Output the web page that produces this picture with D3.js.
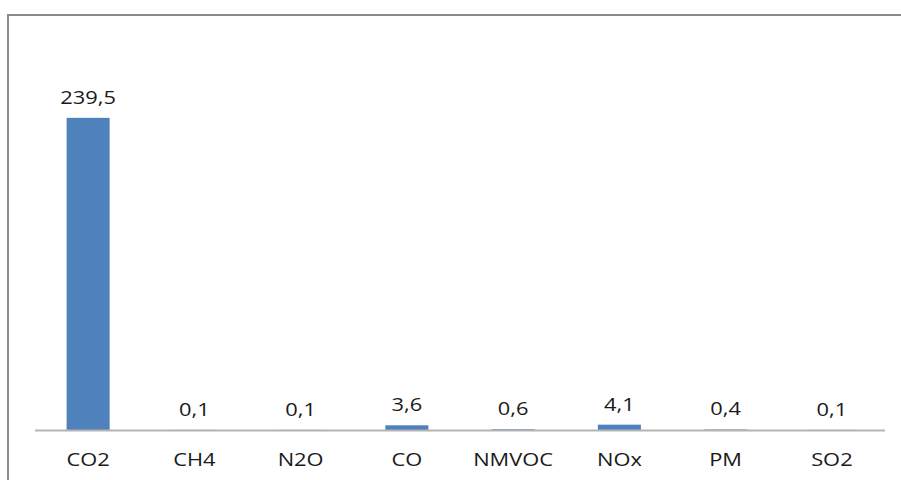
<!DOCTYPE html>
<html>
<head>
<meta charset="utf-8">
<script src="https://cdn.jsdelivr.net/npm/d3@7"></script>
<style>
  html, body { margin: 0; padding: 0; background: #fff; overflow: hidden; }
  svg { display: block; }
  text { font-family: "Open Sans", sans-serif; fill: #1a1a1a; }
</style>
</head>
<body>
<svg id="chart" width="901" height="480"></svg>
<script>
const categories = ["CO2", "CH4", "N2O", "CO", "NMVOC", "NOx", "PM", "SO2"];
const values = [239.5, 0.1, 0.1, 3.6, 0.6, 4.1, 0.4, 0.1];
const valueLabels = ["239,5", "0,1", "0,1", "3,6", "0,6", "4,1", "0,4", "0,1"];

const svg = d3.select("#chart");
const plot = { left: 35, right: 885, top: 39, bottom: 430 };
const FS = 17.5, SX = 1.25;

// frame (right and bottom edges fall outside the view)
svg.append("rect")
  .attr("x", 8).attr("y", 15)
  .attr("width", 920).attr("height", 500)
  .attr("fill", "#fff").attr("stroke", "#8a8a8a").attr("stroke-width", 2);

const x = d3.scaleBand()
  .domain(categories)
  .range([plot.left, plot.right])
  .paddingInner(0.595)
  .paddingOuter(0.2975);

const y = d3.scaleLinear()
  .domain([0, 300])
  .range([plot.bottom, plot.top]);

const data = categories.map((c, i) => ({ c, v: values[i], label: valueLabels[i] }));

svg.append("g").selectAll("rect")
  .data(data)
  .join("rect")
  .attr("x", d => x(d.c))
  .attr("y", d => y(d.v))
  .attr("width", x.bandwidth())
  .attr("height", d => y(0) - y(d.v))
  .attr("fill", "#4f81bd");

// category axis
const axis = d3.axisBottom(x).tickSize(0).tickPadding(0);
const gx = svg.append("g").attr("transform", `translate(0,${y(0)})`).call(axis);
gx.select(".domain").attr("stroke", "#b4b4b4").attr("stroke-width", 2)
  .attr("d", `M${plot.left},0.5H${plot.right}`);
gx.selectAll(".tick text")
  .attr("y", null).attr("dy", null)
  .attr("transform", `translate(0,36) scale(${SX},1)`)
  .attr("font-size", FS)
  .attr("font-family", "Open Sans, sans-serif")
  .attr("fill", "#1a1a1a");

// data labels
svg.append("g").selectAll("text")
  .data(data)
  .join("text")
  .attr("transform", d => `translate(${x(d.c) + x.bandwidth() / 2},${y(d.v) - 14}) scale(${SX},1)`)
  .attr("text-anchor", "middle")
  .attr("font-size", FS)
  .text(d => d.label);
</script>
</body>
</html>
